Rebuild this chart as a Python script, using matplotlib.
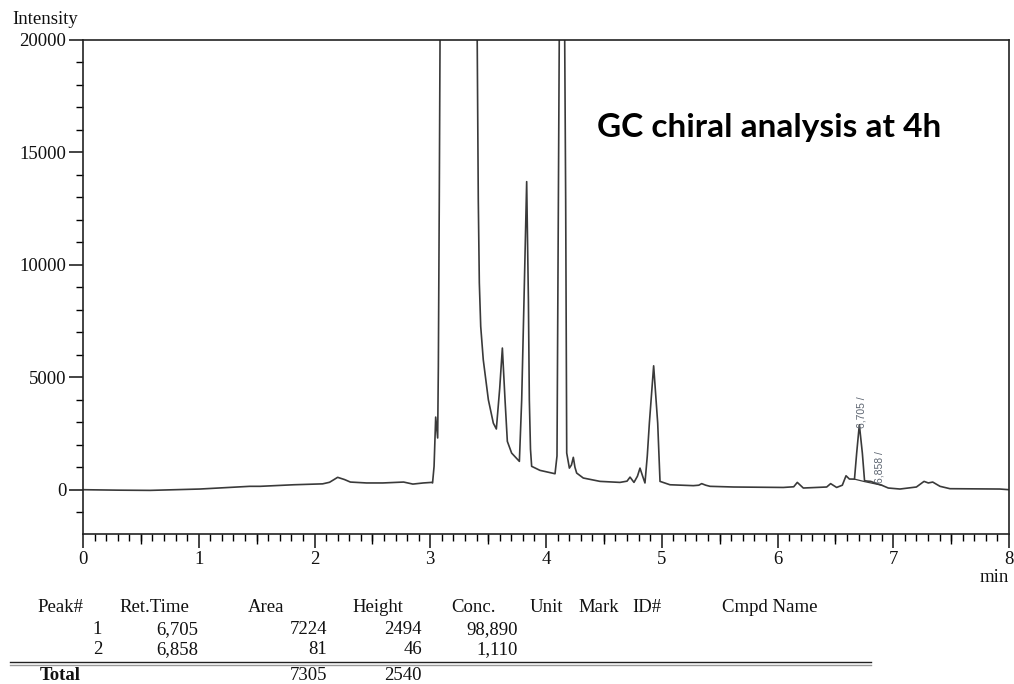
import numpy as np
import matplotlib
matplotlib.use("Agg")
import matplotlib.pyplot as plt
from matplotlib.ticker import MultipleLocator, NullFormatter

# chromatogram trace, time (min) and detector intensity
time = [0.00, 0.30, 0.58, 1.01, 1.44, 1.53, 1.82, 2.07, 2.13, 2.20, 2.26, 2.31,
        2.45, 2.59, 2.77, 2.85, 2.94, 3.012, 3.02, 3.033, 3.047, 3.064, 3.07,
        3.078, 3.085, 3.20, 3.405, 3.415, 3.424, 3.436, 3.458, 3.502, 3.545,
        3.571, 3.60, 3.623, 3.646, 3.666, 3.703, 3.770, 3.79, 3.81, 3.833,
        3.848, 3.856, 3.866, 3.876, 3.948, 4.078, 4.095, 4.107, 4.115, 4.14,
        4.161, 4.170, 4.179, 4.202, 4.22, 4.236, 4.25, 4.265, 4.322, 4.467,
        4.639, 4.70, 4.726, 4.760, 4.79, 4.812, 4.835, 4.855, 4.875, 4.893,
        4.930, 4.965, 4.985, 5.071, 5.273, 5.32, 5.345, 5.38, 5.417, 5.62,
        6.05, 6.14, 6.171, 6.223, 6.425, 6.459, 6.511, 6.56, 6.592, 6.621,
        6.665, 6.684, 6.707, 6.733, 6.752, 6.78, 6.805, 6.857, 6.90, 6.957,
        7.058, 7.20, 7.266, 7.303, 7.341, 7.404, 7.49, 7.92, 8.00]
intensity = [0, -20, -30, 30, 150, 150, 220, 260, 330, 550, 450, 340,
             300, 300, 340, 250, 300, 325, 300, 1040, 3230, 2300, 5480,
             12900, 20500, 80000, 20500, 12900, 9200, 7260, 5780, 4000, 2960,
             2700, 4500, 6300, 4000, 2150, 1630, 1260, 4000, 8440, 13700,
             8440, 4000, 1800, 1040, 860, 710, 1500, 12900, 20500, 60000,
             20500, 12900, 1630, 960, 1100, 1440, 1000, 740, 520, 370,
             325, 380, 560, 325, 600, 960, 600, 300, 1500, 2960,
             5510, 2960, 370, 220, 180, 200, 270, 200, 150, 120,
             100, 130, 325, 75, 120, 270, 100, 200, 620, 475,
             470, 1630, 2890, 1630, 400, 380, 370, 270, 200, 75,
             30, 120, 370, 300, 340, 150, 45, 30, 0]

# integration baselines drawn under the two reported peaks
base_t = [6.665, 6.752, 6.90]
base_i = [470, 360, 200]

# peak table
peak_no = [1, 2]
ret_time = [6.705, 6.858]
area = [7224, 81]
height = [2494, 46]
conc = [98.890, 1.110]
peak_apex = [2760, 280]

serif = "Liberation Serif"
ink = "#111111"
fs = 13.5

fig = plt.figure(figsize=(10.14, 6.84), dpi=100)
ax = fig.add_axes([83 / 1014, 1 - 534 / 684, 926 / 1014, 494 / 684])

ax.plot(time, intensity, color="#3a3a3a", lw=1.2)
ax.plot(base_t, base_i, color="#3a3a3a", lw=0.9)

# retention time labels above the peaks
for rt, y in zip(ret_time, peak_apex):
    ax.text(rt + 0.025, y, f"{rt:.3f}".replace(".", ",") + " /", rotation=90,
            ha="center", va="bottom", fontsize=7.5, color="#5c6470",
            family="Liberation Sans")

ax.set_xlim(0, 8)
ax.set_ylim(-1970, 20000)
ax.xaxis.set_major_locator(MultipleLocator(1))
ax.xaxis.set_minor_locator(MultipleLocator(0.1))
ax.yaxis.set_major_locator(MultipleLocator(5000))
ax.yaxis.set_minor_locator(MultipleLocator(1000))
ax.tick_params(axis="both", which="major", length=10, width=1.1, direction="out",
               labelsize=fs, colors=ink, pad=2)
ax.tick_params(axis="both", which="minor", length=5, width=1.0, direction="out")
for lab in ax.get_xticklabels() + ax.get_yticklabels():
    lab.set_family(serif)

# half-minute ticks are a bit longer
half = ax.secondary_xaxis("bottom")
half.set_xticks(np.arange(0.5, 8, 1.0))
half.xaxis.set_major_formatter(NullFormatter())
half.tick_params(length=7, width=1.0, direction="out")
half.spines["bottom"].set_visible(False)

for sp in ax.spines.values():
    sp.set_linewidth(1.2)
    sp.set_color("#222222")

fig.text(12 / 1014, 1 - 20 / 684, "Intensity", fontsize=fs, family=serif,
         color=ink, va="center", ha="left")
fig.text(1009 / 1014, 1 - 578 / 684, "min", fontsize=fs, family=serif,
         color=ink, va="center", ha="right")
fig.text(597 / 1014, 1 - 128 / 684, "GC chiral analysis at 4h", fontsize=24,
         family="Lato", weight="bold", color="black", va="center", ha="left")

# peak table under the chart
def fy(py):
    return 1 - py / 684

def fx(px):
    return px / 1014

headers = [("Peak#", 37), ("Ret.Time", 119), ("Area", 248), ("Height", 352),
           ("Conc.", 451), ("Unit", 530), ("Mark", 578), ("ID#", 632),
           ("Cmpd Name", 722)]
for txt, px in headers:
    fig.text(fx(px), fy(607), txt, fontsize=fs, family=serif, color=ink,
             va="center", ha="left")

rows_y = [630, 650]
for i, py in enumerate(rows_y):
    cells = [(str(peak_no[i]), 102),
             (f"{ret_time[i]:.3f}".replace(".", ","), 198),
             (str(area[i]), 327),
             (str(height[i]), 422),
             (f"{conc[i]:.3f}".replace(".", ","), 518)]
    for txt, px in cells:
        fig.text(fx(px), fy(py), txt, fontsize=fs, family=serif, color=ink,
                 va="center", ha="right")

fig.add_artist(plt.Line2D([fx(10), fx(871)], [fy(662), fy(662)],
                          color="#222222", lw=1.0))
fig.add_artist(plt.Line2D([fx(10), fx(871)], [fy(664.5), fy(664.5)],
                          color="#999999", lw=1.0))

fig.text(fx(40), fy(675), "Total", fontsize=fs, family=serif, weight="bold",
         color=ink, va="center", ha="left")
fig.text(fx(327), fy(675), str(sum(area)), fontsize=fs, family=serif,
         color=ink, va="center", ha="right")
fig.text(fx(422), fy(675), str(sum(height)), fontsize=fs, family=serif,
         color=ink, va="center", ha="right")

fig.savefig("out.png", dpi=100)
